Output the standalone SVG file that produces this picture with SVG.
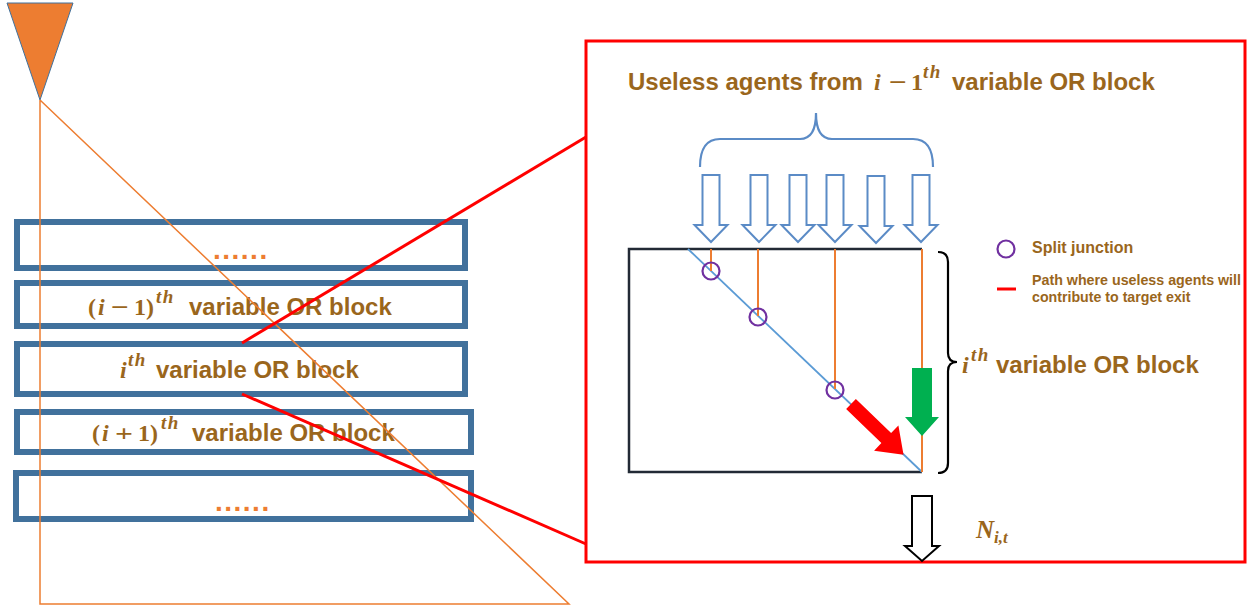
<svg xmlns="http://www.w3.org/2000/svg" xmlns:xlink="http://www.w3.org/1999/xlink" width="1249" height="607" viewBox="0 0 1249 607">
  <style>
    .blk { fill: none; stroke: #41719C; stroke-width: 6; }
    .lbl { font-family: "Liberation Sans", Arial, sans-serif; font-weight: bold; fill: #9A661C; }
    .math { font-family: "Liberation Serif", "DejaVu Serif", serif; font-weight: bold; fill: #9A661C; }
    .it { font-style: italic; }
    .sup { font-family: "Liberation Serif", "DejaVu Serif", serif; font-weight: bold; font-style: italic; fill: #9A661C; font-size: 19px; letter-spacing: 1.5px; }
    .dots { font-family: "Liberation Sans", Arial, sans-serif; font-weight: bold; fill: #ED7D31; font-size: 28px; letter-spacing: 1.5px; }
    .orange { fill: none; stroke: #ED7D31; stroke-width: 1.5; }
    .zoom { fill: none; stroke: #FF0000; stroke-width: 3; }
    .inflow { fill: #FFFFFF; stroke: #5B8BC6; stroke-width: 2; stroke-linejoin: miter; }
    .tap { stroke: #ED7D31; stroke-width: 2; }
    .junction { fill: none; stroke: #7030A0; stroke-width: 2.2; }
  </style>
  <defs>
    <path id="hollowDown" d="M-8.5,0 H8.5 V50 H16.5 L0,67 L-16.5,50 H-8.5 Z"/>
  </defs>

  <rect width="1249" height="607" fill="#FFFFFF"/>

  <!-- Stack of variable OR blocks -->
  <g id="block-top">
    <rect class="blk" x="17" y="222" width="448" height="46"/>
    <text class="dots" x="213" y="259">......</text>
  </g>
  <g id="block-prev">
    <rect class="blk" x="17" y="283" width="448" height="43"/>
    <text class="math" font-size="24" x="88" y="315">(</text>
    <text class="math it" font-size="24" x="98" y="315">i</text>
    <text class="math" font-size="24" x="111" y="315" textLength="18" lengthAdjust="spacingAndGlyphs">−</text>
    <text class="math" font-size="24" x="134" y="315">1</text>
    <text class="math" font-size="24" x="146" y="315">)</text>
    <text class="sup" x="156" y="303">th</text>
    <text class="lbl" font-size="24" x="189" y="315">variable OR block</text>
  </g>
  <g id="block-i">
    <rect class="blk" x="17" y="344" width="448" height="50"/>
    <text class="math it" font-size="24" x="120" y="378">i</text>
    <text class="sup" x="128" y="366">th</text>
    <text class="lbl" font-size="24" x="156" y="378">variable OR block</text>
  </g>
  <g id="block-next">
    <rect class="blk" x="17" y="412" width="454" height="40"/>
    <text class="math" font-size="24" x="92" y="441">(</text>
    <text class="math it" font-size="24" x="102" y="441">i</text>
    <text class="math" font-size="24" x="115" y="441" textLength="18" lengthAdjust="spacingAndGlyphs">+</text>
    <text class="math" font-size="24" x="138" y="441">1</text>
    <text class="math" font-size="24" x="150" y="441">)</text>
    <text class="sup" x="161" y="429">th</text>
    <text class="lbl" font-size="24" x="192" y="441">variable OR block</text>
  </g>
  <g id="block-bottom">
    <rect class="blk" x="16" y="473" width="455" height="46"/>
    <text class="dots" x="215" y="511">......</text>
  </g>

  <!-- Funnel marker and its orange triangle -->
  <g id="funnel">
    <polygon points="7,3 73,3 40,100" fill="#ED7D31" stroke="#41719C" stroke-width="1"/>
    <polyline class="orange" points="40,100 40,604 569,604 40,100"/>
  </g>

  <!-- Detail panel frame -->
  <g id="detail-panel">
    <rect x="586" y="41" width="659" height="521" fill="none" stroke="#FF0000" stroke-width="3"/>
  </g>

  <!-- Incoming useless agents -->
  <g id="incoming">
    <text class="lbl" font-size="24" x="628" y="90">Useless agents from</text>
    <text class="math it" font-size="24" x="874" y="90">i</text>
    <text class="math" font-size="24" x="889" y="90" textLength="18" lengthAdjust="spacingAndGlyphs">−</text>
    <text class="math" font-size="24" x="911" y="90">1</text>
    <text class="sup" x="923" y="78">th</text>
    <text class="lbl" font-size="24" x="952" y="90">variable OR block</text>
    <path d="M700,167 Q700,139 720,139 H800 Q816,139 816,113 Q816,139 832,139 H913 Q933,139 933,167" fill="none" stroke="#5B8BC6" stroke-width="2.2"/>
    <use xlink:href="#hollowDown" class="inflow" x="711" y="175"/>
    <use xlink:href="#hollowDown" class="inflow" x="759" y="175"/>
    <use xlink:href="#hollowDown" class="inflow" x="798" y="175"/>
    <use xlink:href="#hollowDown" class="inflow" x="835" y="175"/>
    <use xlink:href="#hollowDown" class="inflow" x="876" y="176"/>
    <use xlink:href="#hollowDown" class="inflow" x="921" y="175"/>
  </g>

  <!-- Inside the i-th block -->
  <g id="block-detail">
    <polyline points="922,249 629,249 629,472 922,472" fill="none" stroke="#222A35" stroke-width="2.5"/>
    <line x1="688" y1="249" x2="922" y2="472" stroke="#5B9BD5" stroke-width="1.8"/>
    <line class="tap" x1="711" y1="249" x2="711" y2="271"/>
    <line class="tap" x1="758" y1="249" x2="758" y2="316"/>
    <line class="tap" x1="835" y1="249" x2="835" y2="389"/>
    <line class="tap" x1="922" y1="249" x2="922" y2="472"/>
    <circle class="junction" cx="711" cy="271" r="8.5"/>
    <circle class="junction" cx="758" cy="317" r="8.5"/>
    <circle class="junction" cx="835" cy="390" r="8.5"/>
    <path d="M912,368 H932 V417 H939 L922,436 L905,417 H912 Z" fill="#00B050"/>
    <g transform="translate(851,404) rotate(44)">
      <polygon points="0,-7 49,-7 49,-17.5 73,0 49,17.5 49,7 0,7" fill="#FF0000"/>
    </g>
  </g>

  <!-- Right brace and block label -->
  <g id="block-label">
    <path d="M938,252 Q948,252 948,262 V353 Q948,362 957,362 Q948,362 948,371 V463 Q948,473 938,473" fill="none" stroke="#000000" stroke-width="2.2"/>
    <text class="math it" font-size="24" x="962" y="373">i</text>
    <text class="sup" x="971" y="361">th</text>
    <text class="lbl" font-size="24" x="996" y="373">variable OR block</text>
  </g>

  <!-- Legend -->
  <g id="legend">
    <circle class="junction" cx="1006" cy="249" r="8.5"/>
    <text class="lbl" font-size="16" x="1032" y="253">Split junction</text>
    <line x1="997" y1="289" x2="1016" y2="289" stroke="#FF0000" stroke-width="3"/>
    <text class="lbl" font-size="14.2" x="1032" y="285" textLength="209" lengthAdjust="spacingAndGlyphs">Path where useless agents will</text>
    <text class="lbl" font-size="14.2" x="1032" y="302">contribute to target exit</text>
  </g>

  <!-- Target exit flow -->
  <g id="exit-flow">
    <path d="M912,496 H932 V546 H939 L922,561 L905,546 H912 Z" fill="#FFFFFF" stroke="#000000" stroke-width="2"/>
    <text class="math it" font-size="25" x="976" y="538">N<tspan font-size="17" dy="5">i,t</tspan></text>
  </g>

  <!-- Zoom connectors from the i-th block to the detail panel -->
  <g id="connectors">
    <line class="zoom" x1="242" y1="343" x2="586" y2="137"/>
    <line class="zoom" x1="242" y1="394" x2="586" y2="544"/>
  </g>
</svg>
